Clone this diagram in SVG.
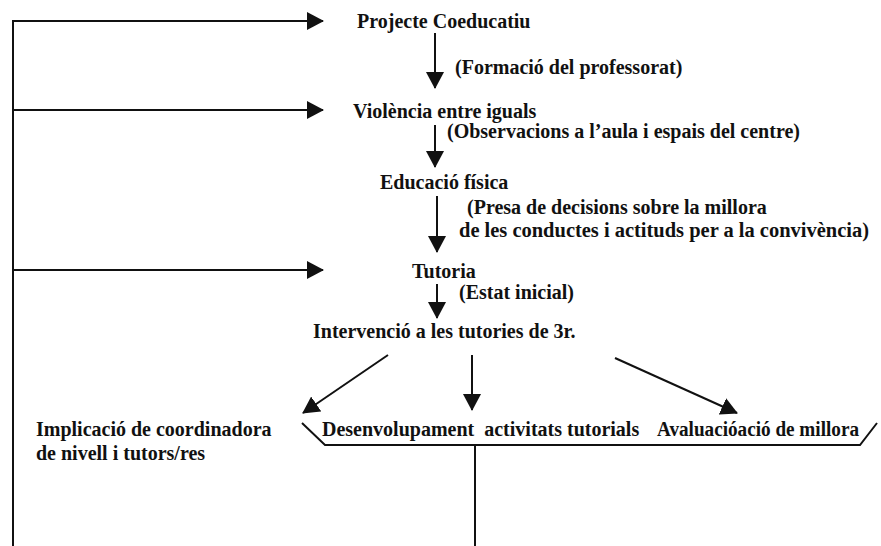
<svg xmlns="http://www.w3.org/2000/svg" width="881" height="546" viewBox="0 0 881 546">
<style>
text{font-family:"Liberation Serif","Times New Roman",serif;font-weight:bold;font-size:20px;fill:#111}
.ln{stroke:#111;stroke-width:2;fill:none}
.ar{marker-end:url(#ah)}
</style>
<defs>
<marker id="ah" markerUnits="userSpaceOnUse" markerWidth="18" markerHeight="18" refX="16" refY="9" orient="auto" viewBox="0 0 18 18">
<path d="M0,0 L17,9 L0,18 z" fill="#111"/>
</marker>
</defs>
<rect width="881" height="546" fill="#fff"/>
<g id="connectors">
<polyline class="ln" points="323,21 13,21 13,546"/>
<line class="ln ar" x1="13" y1="21" x2="323" y2="21"/>
<line class="ln ar" x1="13" y1="110" x2="323" y2="110"/>
<line class="ln ar" x1="13" y1="270" x2="323" y2="270"/>
<line class="ln ar" x1="435" y1="33" x2="435" y2="88"/>
<line class="ln ar" x1="435" y1="125" x2="435" y2="167"/>
<line class="ln ar" x1="437" y1="196" x2="437" y2="252"/>
<line class="ln ar" x1="437" y1="284" x2="437" y2="318"/>
<line class="ln ar" x1="388" y1="355" x2="303" y2="413"/>
<line class="ln ar" x1="472" y1="355" x2="472" y2="410"/>
<line class="ln ar" x1="615" y1="358" x2="737" y2="413"/>
<polyline class="ln" points="302,423 325,445 860,445 877,423"/>
<line class="ln" x1="475" y1="445" x2="475" y2="546"/>
</g>
<g id="projecte"><text x="357" y="28">Projecte Coeducatiu</text></g>
<g id="l-formacio"><text x="455" y="74">(Formació del professorat)</text></g>
<g id="violencia"><text x="353" y="118">Violència entre iguals</text></g>
<g id="l-observacions"><text x="447" y="138">(Observacions a l’aula i espais del centre)</text></g>
<g id="educacio"><text x="380" y="189">Educació física</text></g>
<g id="l-presa"><text x="467" y="214">(Presa de decisions sobre la millora</text><text x="459" y="237" textLength="410" lengthAdjust="spacingAndGlyphs">de les conductes i actituds per a la convivència)</text></g>
<g id="tutoria"><text x="412" y="278">Tutoria</text></g>
<g id="l-estat"><text x="459" y="299">(Estat inicial)</text></g>
<g id="intervencio"><text x="313" y="338">Intervenció a les tutories de 3r.</text></g>
<g id="implicacio"><text x="36" y="436">Implicació de coordinadora</text><text x="36" y="460">de nivell i tutors/res</text></g>
<g id="desenvolupament"><text x="322" y="436" xml:space="preserve">Desenvolupament  activitats tutorials</text></g>
<g id="avaluacio"><text x="657" y="436" textLength="202" lengthAdjust="spacingAndGlyphs">Avaluacióació de millora</text></g>
</svg>
